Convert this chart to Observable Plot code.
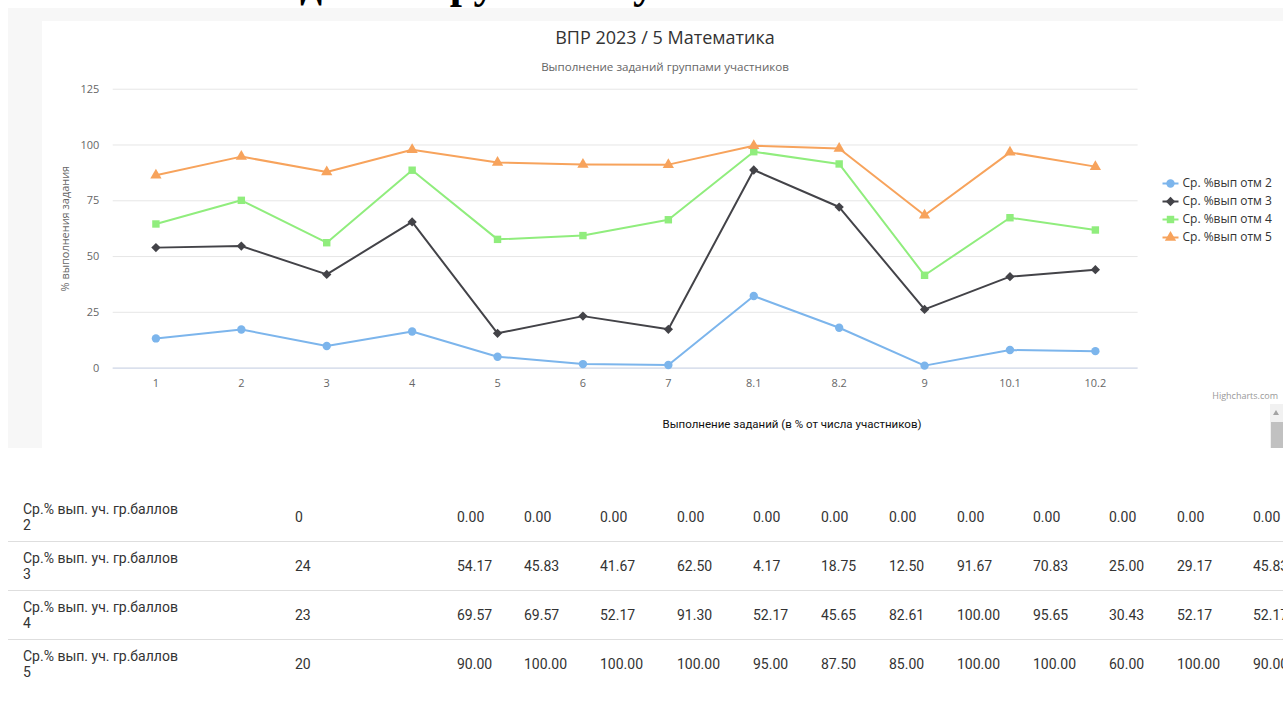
<!DOCTYPE html>
<html>
<head>
<meta charset="utf-8">
<script src="https://cdn.jsdelivr.net/npm/d3@7"></script>
<script src="https://cdn.jsdelivr.net/npm/@observablehq/plot@0.6"></script>
<style>
  html, body { margin: 0; padding: 0; background: #fff; }
  #page { position: relative; width: 1283px; height: 713px; overflow: hidden; background: #fff; font-family: "Open Sans", sans-serif; }
  .abs { position: absolute; }
  #frame { left: 8px; top: 8px; width: 1300px; height: 440px; background: #f7f7f7; }
  #white { left: 42px; top: 21px; width: 1300px; height: 427px; background: #fff; }
  #title { left: 42px; width: 1246px; top: 25px; text-align: center; font-size: 18px; color: #333; line-height: 24px; }
  #subtitle { left: 42px; width: 1246px; top: 59px; text-align: center; font-size: 11.6px; color: #666; line-height: 16px; }
  #credit { left: 1150px; width: 128px; top: 389px; text-align: right; font-size: 9px; color: #999; }
  #caption { left: 542px; width: 500px; top: 417px; text-align: center; font-family: Roboto, sans-serif; font-size: 11.5px; color: #111; }
  #sbtrack { left: 1270px; top: 404px; width: 13px; height: 44px; background: #f1f1f1; }
  #sbthumb { left: 1271px; top: 422px; width: 12px; height: 26px; background: #c1c1c1; }
  #sbarrow { left: 1273px; top: 410px; width: 0; height: 0; border-left: 3.5px solid transparent; border-right: 3.5px solid transparent; border-bottom: 5px solid #a3a3a3; }
  #tbl { left: 8px; top: 493px; border-collapse: collapse; table-layout: fixed; font-family: Roboto, sans-serif; font-size: 14px; color: #333; }
  #tbl td { padding: 0; height: 48px; line-height: 16px; vertical-align: middle; white-space: nowrap; overflow: visible; }
  #tbl tr + tr td { border-top: 1px solid #dedede; }
  #tbl td.lab { padding-left: 15px; }
</style>
</head>
<body>
<div id="page">
  <svg id="heading" class="abs" style="left:0;top:0" width="1283" height="8"></svg>
  <div id="frame" class="abs"></div>
  <div id="white" class="abs"></div>
  <div id="title" class="abs"></div>
  <div id="subtitle" class="abs"></div>
  <div id="chart" class="abs" style="left:42px;top:21px;"></div>
  <div id="legend" class="abs" style="left:1158px;top:172px;"></div>
  <div id="credit" class="abs">Highcharts.com</div>
  <div id="caption" class="abs"></div>
  <div id="sbtrack" class="abs"></div>
  <div id="sbarrow" class="abs"></div>
  <div id="sbthumb" class="abs"></div>
  <table id="tbl" class="abs"></table>
</div>
<script>
// ---------- data ----------
const headingText = "Выполнение заданий группами участников";
const chartTitle = "ВПР 2023 / 5 Математика";
const chartSubtitle = "Выполнение заданий группами участников";
const yAxisTitle = "% выполнения задания";
const captionText = "Выполнение заданий (в % от числа участников)";

const categories = ["1", "2", "3", "4", "5", "6", "7", "8.1", "8.2", "9", "10.1", "10.2"];
const seriesNames = ["Ср. %вып отм 2", "Ср. %вып отм 3", "Ср. %вып отм 4", "Ср. %вып отм 5"];
const otm2 = [13.3, 17.3, 9.9, 16.4, 5.1, 1.8, 1.4, 32.3, 18.1, 1.1, 8.1, 7.6];
const otm3 = [54.0, 54.7, 42.0, 65.5, 15.6, 23.3, 17.4, 88.8, 72.2, 26.3, 41.0, 44.1];
const otm4 = [64.6, 75.2, 56.2, 88.7, 57.7, 59.4, 66.5, 97.0, 91.5, 41.6, 67.4, 61.9];
const otm5 = [86.4, 94.8, 87.9, 97.9, 92.2, 91.3, 91.2, 99.7, 98.4, 68.5, 96.7, 90.3];
const yTicks = [0, 25, 50, 75, 100, 125];

const tableLabels = ["Ср.% вып. уч. гр.баллов", "Ср.% вып. уч. гр.баллов", "Ср.% вып. уч. гр.баллов", "Ср.% вып. уч. гр.баллов"];
const tableGroups = ["2", "3", "4", "5"];
const tableCounts = ["0", "24", "23", "20"];
const tableRow2 = ["0.00", "0.00", "0.00", "0.00", "0.00", "0.00", "0.00", "0.00", "0.00", "0.00", "0.00", "0.00"];
const tableRow3 = ["54.17", "45.83", "41.67", "62.50", "4.17", "18.75", "12.50", "91.67", "70.83", "25.00", "29.17", "45.83"];
const tableRow4 = ["69.57", "69.57", "52.17", "91.30", "52.17", "45.65", "82.61", "100.00", "95.65", "30.43", "52.17", "52.17"];
const tableRow5 = ["90.00", "100.00", "100.00", "100.00", "95.00", "87.50", "85.00", "100.00", "100.00", "60.00", "100.00", "90.00"];

// ---------- styles (not data) ----------
const seriesColors = ["#7cb5ec", "#434348", "#90ed7d", "#f7a35c"];
const seriesSymbols = ["circle", "diamond2", "square", "triangle"];
const colWidths = [287, 162, 67, 76, 77, 76, 68, 68, 68, 76, 76, 68, 76, 100];

// ---------- heading (clipped serif text at very top) ----------
(function () {
  const size = 40;
  const ctx = document.createElement("canvas").getContext("2d");
  ctx.font = `bold ${size}px "Liberation Serif"`;
  const w1 = ctx.measureText("Выполнение за").width;
  const w2 = ctx.measureText("Выполнение заданий г").width;
  const k = 150 / (w2 - w1);
  const fs = size * k;
  const left = 300 - w1 * k;
  const svg = document.getElementById("heading");
  const t = document.createElementNS("http://www.w3.org/2000/svg", "text");
  t.setAttribute("x", left);
  t.setAttribute("y", -2);
  t.setAttribute("font-family", "Liberation Serif");
  t.setAttribute("font-weight", "bold");
  t.setAttribute("font-size", fs);
  t.setAttribute("fill", "#000");
  t.textContent = headingText;
  svg.appendChild(t);
})();

document.getElementById("title").textContent = chartTitle;
document.getElementById("subtitle").textContent = chartSubtitle;
document.getElementById("caption").textContent = captionText;

// ---------- chart ----------
const seriesValues = [otm2, otm3, otm4, otm5];
const rows = [];
seriesNames.forEach((s, i) => categories.forEach((c, j) => rows.push({series: s, cat: c, value: seriesValues[i][j]})));

const chart = Plot.plot({
  width: 1246,
  height: 400,
  marginLeft: 71,
  marginRight: 146,
  marginTop: 68,
  marginBottom: 52,
  style: {fontFamily: "Open Sans", fontSize: "11px", color: "#666", background: "transparent", overflow: "visible"},
  x: {type: "point", domain: categories, padding: 0.5, round: false},
  y: {domain: [0, 125]},
  color: {domain: seriesNames, range: seriesColors},
  symbol: {domain: seriesNames, range: seriesSymbols},
  marks: [
    Plot.gridY(yTicks, {stroke: "#e6e6e6", strokeOpacity: 1}),
    Plot.axisY(yTicks, {tickSize: 0, tickPadding: 14, label: yAxisTitle, labelAnchor: "center", labelOffset: 52, labelArrow: "none"}),
    Plot.axisX({tickSize: 0, tickPadding: 11, label: null}),
    Plot.ruleY([0], {stroke: "#ccd6eb", strokeWidth: 1}),
    Plot.line(rows, {x: "cat", y: "value", z: "series", stroke: "series", strokeWidth: 2}),
    Plot.dot(rows, {x: "cat", y: "value", symbol: "series", fill: "series", stroke: null, r: 4.2})
  ]
});
document.getElementById("chart").appendChild(chart);

// ---------- legend ----------
const legend = Plot.plot({
  width: 125,
  height: 80,
  margin: 0,
  style: {fontFamily: "Open Sans", fontSize: "12px", color: "#333", background: "transparent", overflow: "visible"},
  x: {domain: [0, 125], range: [0, 125], axis: null},
  y: {type: "point", domain: seriesNames, range: [11, 65], padding: 0, round: false, axis: null},
  color: {domain: seriesNames, range: seriesColors},
  symbol: {domain: seriesNames, range: seriesSymbols},
  marks: [
    Plot.link(seriesNames, {x1: () => 4, x2: () => 20, y1: d => d, y2: d => d, stroke: d => d, strokeWidth: 2}),
    Plot.dot(seriesNames, {x: () => 12, y: d => d, symbol: d => d, fill: d => d, stroke: null, r: 4.2}),
    Plot.text(seriesNames, {x: () => 24, y: d => d, text: d => d, textAnchor: "start", fill: "#333"})
  ]
});
document.getElementById("legend").appendChild(legend);

// ---------- table ----------
const tbl = document.getElementById("tbl");
const cg = document.createElement("colgroup");
colWidths.forEach(w => { const c = document.createElement("col"); c.style.width = w + "px"; cg.appendChild(c); });
tbl.appendChild(cg);
tbl.style.width = colWidths.reduce((a, b) => a + b, 0) + "px";
const tableValues = [tableRow2, tableRow3, tableRow4, tableRow5];
tableGroups.forEach((g, i) => {
  const tr = document.createElement("tr");
  const lab = document.createElement("td");
  lab.className = "lab";
  lab.innerHTML = tableLabels[i] + "<br>" + g;
  tr.appendChild(lab);
  const cnt = document.createElement("td");
  cnt.textContent = tableCounts[i];
  tr.appendChild(cnt);
  tableValues[i].forEach(v => { const td = document.createElement("td"); td.textContent = v; tr.appendChild(td); });
  tbl.appendChild(tr);
});
</script>
</body>
</html>
